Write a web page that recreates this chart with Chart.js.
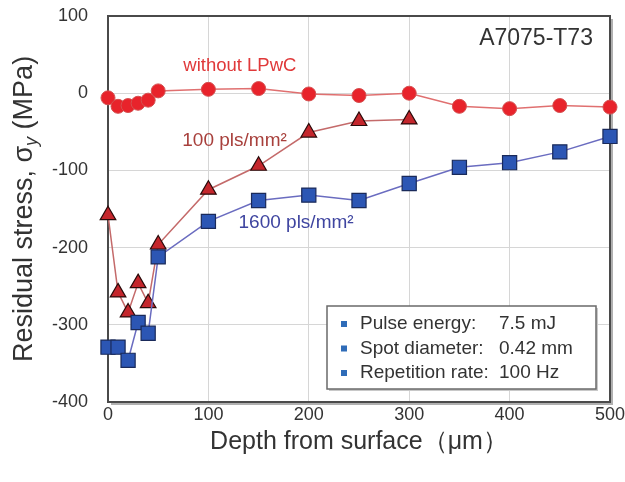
<!DOCTYPE html>
<html>
<head>
<meta charset="utf-8">
<script src="https://cdn.jsdelivr.net/npm/chart.js@4"></script>
<style>
  body { margin: 0; background: #fff; }
  #wrap { width: 625px; height: 482px; }
</style>
</head>
<body>
<div id="wrap"><canvas id="chart" width="625" height="482"></canvas></div>
<script>
// ─── DATOS ────────────────────────────────────────────────
const depthNoLPwC = [0, 10, 20, 30, 40, 50, 100, 150, 200, 250, 300, 350, 400, 450, 500]
const stressNoLPwC = [-6, -17, -16, -13, -9, 3, 5, 6, -1, -3, 0, -17, -20, -16, -18]

const depth100 = [0, 10, 20, 30, 40, 50, 100, 150, 200, 250, 300]
const stress100 = [-158, -258, -284, -246, -272, -196, -125, -94, -51, -36, -34]

const depth1600 = [0, 10, 20, 30, 40, 50, 100, 150, 200, 250, 300, 350, 400, 450, 500]
const stress1600 = [-329, -329, -346, -297, -311, -212, -166, -139, -132, -139, -117, -96, -90, -76, -56]

const xTicks = [0, 100, 200, 300, 400, 500]
const yTicks = [-400, -300, -200, -100, 0, 100]

const legendLines = [
    ['Pulse energy:', '7.5 mJ'],
    ['Spot diameter:', '0.42 mm'],
    ['Repetition rate:', '100 Hz']
]

const FONT = "'Liberation Sans', Arial, sans-serif"

const toPoints = (xs, ys) => xs.map((x, i) => ({ x, y: ys[i] }))

// ─── ANOTACIONES ──────────────────────────────────────────
const annotations = {
    id: 'annotations',
    beforeDatasetsDraw(chart) {
        const { ctx, chartArea: a } = chart
        ctx.save()
        // sombra del marco
        ctx.strokeStyle = '#b0b0b0'
        ctx.lineWidth = 2
        ctx.beginPath()
        ctx.moveTo(a.right + 2, a.top + 3)
        ctx.lineTo(a.right + 2, a.bottom + 2)
        ctx.lineTo(a.left + 3, a.bottom + 2)
        ctx.stroke()
        // marco
        ctx.strokeStyle = '#4a4a4a'
        ctx.lineWidth = 2
        ctx.strokeRect(a.left, a.top, a.right - a.left, a.bottom - a.top)
        ctx.restore()
    },
    afterDraw(chart) {
        const { ctx, chartArea: a } = chart
        const x = chart.scales.x
        const y = chart.scales.y
        ctx.save()
        ctx.textBaseline = 'middle'

        // título del material
        ctx.fillStyle = '#333'
        ctx.font = `23px ${FONT}`
        ctx.textAlign = 'right'
        ctx.fillText('A7075-T73', x.getPixelForValue(483), y.getPixelForValue(71))

        // etiquetas de series
        ctx.textAlign = 'left'
        ctx.font = `18.5px ${FONT}`
        ctx.fillStyle = '#e0393a'
        ctx.fillText('without LPwC', x.getPixelForValue(75), y.getPixelForValue(36))
        ctx.font = `19px ${FONT}`
        ctx.fillStyle = '#a8403c'
        ctx.fillText('100 pls/mm²', x.getPixelForValue(74), y.getPixelForValue(-61))
        ctx.fillStyle = '#3f45a0'
        ctx.fillText('1600 pls/mm²', x.getPixelForValue(130), y.getPixelForValue(-168))

        // caja de condiciones
        const bx = 327, by = 306, bw = 269, bh = 83
        ctx.fillStyle = '#c8c8c8'
        ctx.fillRect(bx + 2, by + 2, bw, bh)
        ctx.fillStyle = '#fff'
        ctx.fillRect(bx, by, bw, bh)
        ctx.strokeStyle = '#6a6a6a'
        ctx.lineWidth = 1.5
        ctx.strokeRect(bx, by, bw, bh)

        ctx.font = `19px ${FONT}`
        legendLines.forEach(([label, value], i) => {
            const ly = by + 18 + i * 24.5
            ctx.fillStyle = '#2f6cb8'
            ctx.fillRect(bx + 14, ly - 3, 6, 6)
            ctx.fillStyle = '#333'
            ctx.fillText(label, bx + 33, ly)
            ctx.fillText(value, bx + 172, ly)
        })

        // título del eje Y con subíndice
        ctx.translate(25, (a.top + a.bottom) / 2)
        ctx.rotate(-Math.PI / 2)
        const big = `27px ${FONT}`
        const small = `italic 18px ${FONT}`
        const p1 = 'Residual stress, σ'
        const p2 = 'y'
        const p3 = ' (MPa)'
        ctx.font = big
        const w1 = ctx.measureText(p1).width
        const w3 = ctx.measureText(p3).width
        ctx.font = small
        const w2 = ctx.measureText(p2).width
        let cx = -(w1 + w2 + w3) / 2
        ctx.fillStyle = '#333'
        ctx.font = big
        ctx.fillText(p1, cx, 0)
        cx += w1
        ctx.font = small
        ctx.fillText(p2, cx, 7)
        cx += w2
        ctx.font = big
        ctx.fillText(p3, cx, 0)
        ctx.restore()
    }
}

// ─── GRÁFICO ──────────────────────────────────────────────
new Chart(document.getElementById('chart'), {
    type: 'scatter',
    data: {
        datasets: [
            {
                label: '1600 pls/mm²',
                data: toPoints(depth1600, stress1600),
                showLine: true,
                borderColor: '#6a6cc0',
                borderWidth: 1.5,
                pointStyle: 'rect',
                pointRadius: 10,
                pointBackgroundColor: '#2c56b4',
                pointBorderColor: '#1a2a5a',
                pointBorderWidth: 1.2,
                clip: false,
                order: 1
            },
            {
                label: '100 pls/mm²',
                data: toPoints(depth100, stress100),
                showLine: true,
                borderColor: '#c46a6a',
                borderWidth: 1.5,
                pointStyle: 'triangle',
                pointRadius: 9,
                pointBackgroundColor: '#c4262c',
                pointBorderColor: '#2a0a0a',
                pointBorderWidth: 1.2,
                clip: false,
                order: 2
            },
            {
                label: 'without LPwC',
                data: toPoints(depthNoLPwC, stressNoLPwC),
                showLine: true,
                borderColor: '#e07070',
                borderWidth: 1.5,
                pointStyle: 'circle',
                pointRadius: 7,
                pointBackgroundColor: '#e8232b',
                pointBorderColor: '#d45050',
                pointBorderWidth: 1,
                clip: false,
                order: 3
            }
        ]
    },
    options: {
        responsive: false,
        animation: false,
        layout: { padding: { left: 0, right: 15, top: 16, bottom: 0 } },
        plugins: {
            legend: { display: false },
            tooltip: { enabled: false }
        },
        scales: {
            x: {
                type: 'linear',
                min: 0,
                max: 500,
                afterBuildTicks: s => { s.ticks = xTicks.map(v => ({ value: v })) },
                afterFit: s => { s.height = 80; s.paddingLeft = 0; s.paddingRight = 0 },
                grid: { color: '#d6d6d6', drawTicks: false },
                border: { display: false },
                ticks: { color: '#333', font: { family: FONT, size: 18 }, padding: 2, maxRotation: 0 },
                title: {
                    display: true,
                    text: 'Depth from surface（μm）',
                    color: '#333',
                    font: { family: FONT, size: 25 },
                    padding: { top: 0, bottom: 25 }
                }
            },
            y: {
                type: 'linear',
                min: -400,
                max: 100,
                afterBuildTicks: s => { s.ticks = yTicks.map(v => ({ value: v })) },
                afterFit: s => { s.width = 108; s.paddingTop = 0; s.paddingBottom = 0 },
                grid: { color: '#d6d6d6', drawTicks: false },
                border: { display: false },
                ticks: { color: '#333', font: { family: FONT, size: 18 }, padding: 20 }
            }
        }
    },
    plugins: [annotations]
})
</script>
</body>
</html>
